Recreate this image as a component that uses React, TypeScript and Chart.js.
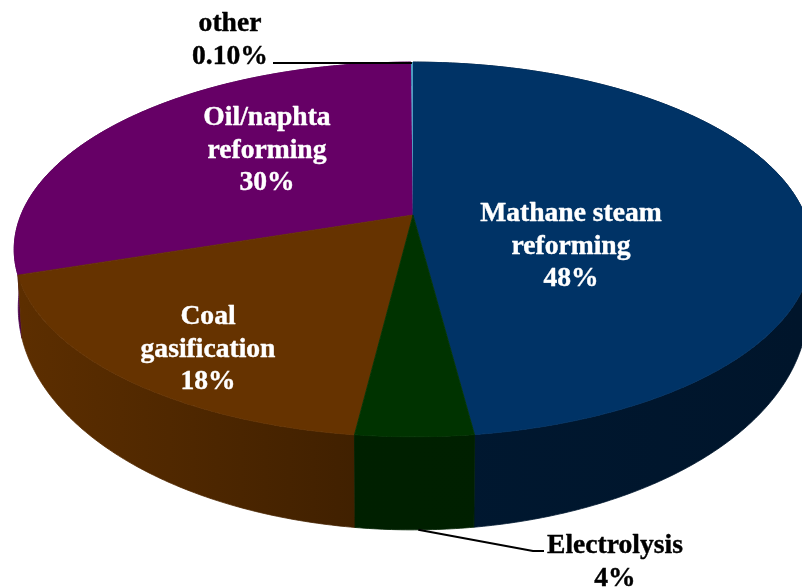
import React, { useEffect, useRef } from "react";
import { Chart, registerables } from "chart.js";

Chart.register(...registerables);

const categories = ["Mathane steam reforming", "Electrolysis", "Coal gasification", "Oil/naphta reforming", "other"];
const shares = [48, 4, 18, 30, 0.1];
const topColors = ["#003366", "#003300", "#663300", "#660066", "#4f9fc4"];
const wallColorsLeft = ["#001b36", "#002100", "#5e2f00", "#4a004a", "#12304a"];
const wallColorsRight = ["#00152b", "#001f00", "#402000", "#4a004a", "#12304a"];

const TOP = { cx: 413, y0: 215, rx: 392, ry: 181, k: 0.184 };
const BOTTOM = { cx: 413, y0: 267, rx: 388, ry: 214.5, k: 0.184 };
type Plane = typeof TOP;

const project = (p: Plane, angle: number, r = 1): [number, number] => {
  const u = r * Math.cos(angle);
  const v = r * Math.sin(angle);
  const w = 1 - p.k * v;
  return [p.cx + (p.rx * u) / w, p.y0 + (p.ry * v) / w];
};

const rim = (p: Plane, a0: number, a1: number): [number, number][] => {
  const steps = Math.max(2, Math.ceil(Math.abs(a1 - a0) / 0.01));
  const pts: [number, number][] = [];
  for (let i = 0; i <= steps; i++) pts.push(project(p, a0 + ((a1 - a0) * i) / steps));
  return pts;
};

const tracePoly = (ctx: CanvasRenderingContext2D, pts: [number, number][]) => {
  ctx.beginPath();
  pts.forEach((q, i) => (i ? ctx.lineTo(q[0], q[1]) : ctx.moveTo(q[0], q[1])));
  ctx.closePath();
};

const FONT = 'bold 27.6px "Liberation Serif"';
const LABELS: { lines: string[]; x: number; y: number; color: string }[] = [
  { lines: ["Mathane steam", "reforming", "48%"], x: 571, y: 214, color: "#ffffff" },
  { lines: ["Oil/naphta", "reforming", "30%"], x: 267, y: 118, color: "#ffffff" },
  { lines: ["Coal", "gasification", "18%"], x: 208, y: 317, color: "#ffffff" },
  { lines: ["other", "0.10%"], x: 230, y: 24, color: "#000000" },
  { lines: ["Electrolysis", "4%"], x: 615, y: 546, color: "#000000" },
];
const LINE_GAP = 32.5;

const pie3d = {
  id: "pie3d",
  beforeDatasetDraw(chart: any) {
    const ctx: CanvasRenderingContext2D = chart.ctx;
    const arcs = chart.getDatasetMeta(0).data as any[];
    const order = [3, 2, 0, 1, 4];

    ctx.save();
    ctx.lineJoin = "round";
    // side wall
    order.forEach((i) => {
      const a = arcs[i];
      const grad = ctx.createLinearGradient(0, 0, chart.width, 0);
      const isBrown = i === 2;
      grad.addColorStop(0, wallColorsLeft[i]);
      grad.addColorStop(isBrown ? 0.45 : 1, wallColorsRight[i]);
      if (isBrown) grad.addColorStop(1, wallColorsRight[i]);
      const top = rim(TOP, a.startAngle, a.endAngle);
      const bot = rim(BOTTOM, a.startAngle, a.endAngle).reverse();
      tracePoly(ctx, [...top, ...bot]);
      ctx.fillStyle = grad;
      ctx.fill();
      if (i !== 4) {
        ctx.strokeStyle = grad;
        ctx.lineWidth = 0.8;
        ctx.stroke();
      }
    });
    // top face
    order.forEach((i) => {
      const a = arcs[i];
      const [vx, vy] = project(TOP, 0, 0);
      tracePoly(ctx, [[vx, vy], ...rim(TOP, a.startAngle, a.endAngle)]);
      ctx.fillStyle = topColors[i];
      ctx.fill();
      if (i !== 4) {
        ctx.strokeStyle = topColors[i];
        ctx.lineWidth = 0.8;
        ctx.stroke();
      }
    });

    // leader lines
    const mid = (i: number) => (arcs[i].startAngle + arcs[i].endAngle) / 2;
    ctx.strokeStyle = "#000000";
    ctx.lineWidth = 2;
    const other = project(TOP, mid(4));
    ctx.beginPath();
    ctx.moveTo(273, 63);
    ctx.lineTo(other[0], 63);
    ctx.stroke();
    const elec = project(BOTTOM, mid(1) - 0.008);
    ctx.beginPath();
    ctx.moveTo(elec[0], elec[1]);
    ctx.lineTo(533, 551);
    ctx.lineTo(544, 551);
    ctx.stroke();

    // labels
    ctx.font = FONT;
    ctx.textAlign = "center";
    ctx.textBaseline = "middle";
    ctx.lineWidth = 0.4;
    LABELS.forEach((l) => {
      ctx.fillStyle = l.color;
      ctx.strokeStyle = l.color;
      l.lines.forEach((t, n) => {
        ctx.fillText(t, l.x, l.y + n * LINE_GAP);
        ctx.strokeText(t, l.x, l.y + n * LINE_GAP);
      });
    });
    ctx.restore();
    return false;
  },
};

export default function App() {
  const ref = useRef<HTMLCanvasElement>(null);
  useEffect(() => {
    document.body.style.margin = "0";
    document.body.style.background = "#ffffff";
    const chart = new Chart(ref.current!, {
      type: "pie",
      data: {
        labels: categories,
        datasets: [{ data: shares, backgroundColor: topColors, borderWidth: 0 }],
      },
      options: {
        responsive: false,
        animation: false,
        plugins: { legend: { display: false }, tooltip: { enabled: false } },
      },
      plugins: [pie3d],
    } as any);
    return () => chart.destroy();
  }, []);
  return <canvas ref={ref} width={802} height={587} style={{ display: "block" }} />;
}
